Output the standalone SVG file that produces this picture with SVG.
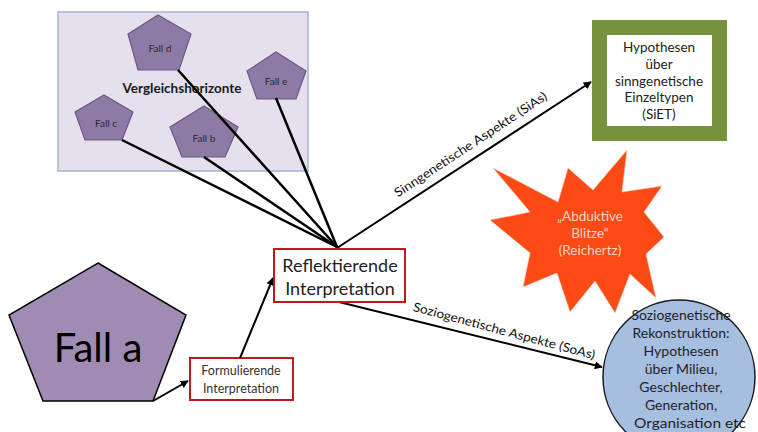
<svg xmlns="http://www.w3.org/2000/svg" width="758" height="432" viewBox="0 0 758 432">
<defs>
<marker id="ah" viewBox="0 0 10 10" refX="9" refY="5" markerWidth="4" markerHeight="4" orient="auto-start-reverse" markerUnits="strokeWidth">
<path d="M0,0 L10,5 L0,10 z" fill="#000"/>
</marker>
</defs>
<style>
text{font-family:Lato,"Open Sans","Liberation Sans",sans-serif;text-anchor:middle}
.pent{fill:#8e7ba5;stroke:#6b5886;stroke-width:1.2}
.small{font-size:10px;fill:#2a2a2a}
.red{fill:#fff;stroke:#c0181c;stroke-width:2}
.ln{stroke:#000;stroke-width:2.5;fill:none}
.arr{stroke:#000;stroke-width:2;fill:none;marker-end:url(#ah)}
.lbl{font-size:12.5px;fill:#111}
.gb{font-size:13.5px;fill:#222}
.ct{font-size:14px;fill:#1e1e2a}
.st{font-size:13.5px;fill:#f8d2c4}
</style>
<rect width="758" height="432" fill="#fff"/>
<g id="vergleichshorizonte">
<rect x="58" y="12" width="250" height="159" fill="#e5e0ec" stroke="#9fb6d8" stroke-width="1.5"/>
<text x="182" y="93" style="font-size:13.5px;font-weight:bold;fill:#1a1a1a">Vergleichshorizonte</text>
</g>
<g id="fall-d">
<polygon class="pent" points="158,15 191,34 179,70 138,70 128,34"/>
<text class="small" x="160" y="52">Fall d</text>
</g>
<g id="fall-e">
<polygon class="pent" points="276,52 306,71 296,99 257,99 247,71"/>
<text class="small" x="276" y="85">Fall e</text>
</g>
<g id="fall-c">
<polygon class="pent" points="104,95 133,112 122,140 85,140 75,112"/>
<text class="small" x="106" y="127">Fall c</text>
</g>
<g id="fall-b">
<polygon class="pent" points="204,106 238,127 225,157 182,157 170,127"/>
<text class="small" x="204" y="142">Fall b</text>
</g>
<g id="fall-a">
<polygon points="98,263 186,315 153,401 43,401 9,315" fill="#a08cb2" stroke="#000" stroke-width="1.5"/>
<text x="98" y="362" style="font-size:40px;fill:#000">Fall a</text>
</g>
<g id="hypothesen-siet">
<rect x="592" y="20" width="135" height="121" fill="#76923c"/>
<rect x="607" y="35" width="105" height="91" fill="#fff"/>
<text class="gb" x="659" y="52">Hypothesen</text>
<text class="gb" x="659" y="69">über</text>
<text class="gb" x="659" y="86">sinngenetische</text>
<text class="gb" x="659" y="102">Einzeltypen</text>
<text class="gb" x="659" y="119">(SiET)</text>
</g>
<g id="abduktive-blitze">
<polygon points="627,150 622,192 662,186 644,212 664,237 646,254 656,298 630,274 615,313 595,281 570,312 557,273 523,287 530,253 490,220 530,212 493,168 558,202 568,168 593,190" fill="#fc4a14" stroke="#f3d0c6" stroke-width="0.6"/>
<text class="st" x="590" y="221">„Abduktive</text>
<text class="st" x="590" y="238">Blitze“</text>
<text class="st" x="590" y="255">(Reichertz)</text>
</g>
<g id="soziogenetische-rekonstruktion">
<ellipse cx="679" cy="377" rx="76" ry="77" fill="#a7bfdf" stroke="#1c1c24" stroke-width="1.5"/>
<text class="ct" x="681" y="320">Soziogenetische</text>
<text class="ct" x="681" y="338">Rekonstruktion:</text>
<text class="ct" x="681" y="356">Hypothesen</text>
<text class="ct" x="681" y="374">über Milieu,</text>
<text class="ct" x="681" y="392">Geschlechter,</text>
<text class="ct" x="681" y="410">Generation,</text>
<text class="ct" x="690" y="428" textLength="112" lengthAdjust="spacingAndGlyphs">Organisation etc</text>
</g>
<g id="formulierende-interpretation">
<rect class="red" x="190" y="358" width="103" height="42"/>
<text x="241" y="375" style="font-size:12.5px;fill:#333">Formulierende</text>
<text x="241" y="393" style="font-size:12.5px;fill:#333">Interpretation</text>
</g>
<g id="connectors">
<line class="ln" x1="122" y1="140" x2="337" y2="247"/>
<line class="ln" x1="204" y1="157" x2="337" y2="247"/>
<line class="ln" x1="178" y1="70" x2="337" y2="247"/>
<line class="ln" x1="276" y1="98" x2="337" y2="247"/>
<line class="arr" x1="337" y1="248" x2="591" y2="82"/>
<line class="arr" x1="339" y1="302" x2="602" y2="367"/>
<line class="arr" x1="153" y1="401" x2="188" y2="381"/>
<line class="arr" x1="240" y1="358" x2="273" y2="278"/>
<text class="lbl" transform="translate(473,148) rotate(-33.4)" textLength="180" lengthAdjust="spacingAndGlyphs">Sinngenetische Aspekte (SiAs)</text>
<text class="lbl" transform="translate(503,335) rotate(15)" textLength="188" lengthAdjust="spacingAndGlyphs">Soziogenetische Aspekte (SoAs)</text>
</g>
<g id="reflektierende-interpretation">
<rect class="red" x="274" y="249" width="131" height="53"/>
<text x="340" y="272" style="font-size:18px;fill:#222">Reflektierende</text>
<text x="340" y="295" style="font-size:18px;fill:#222">Interpretation</text>
</g>
</svg>
